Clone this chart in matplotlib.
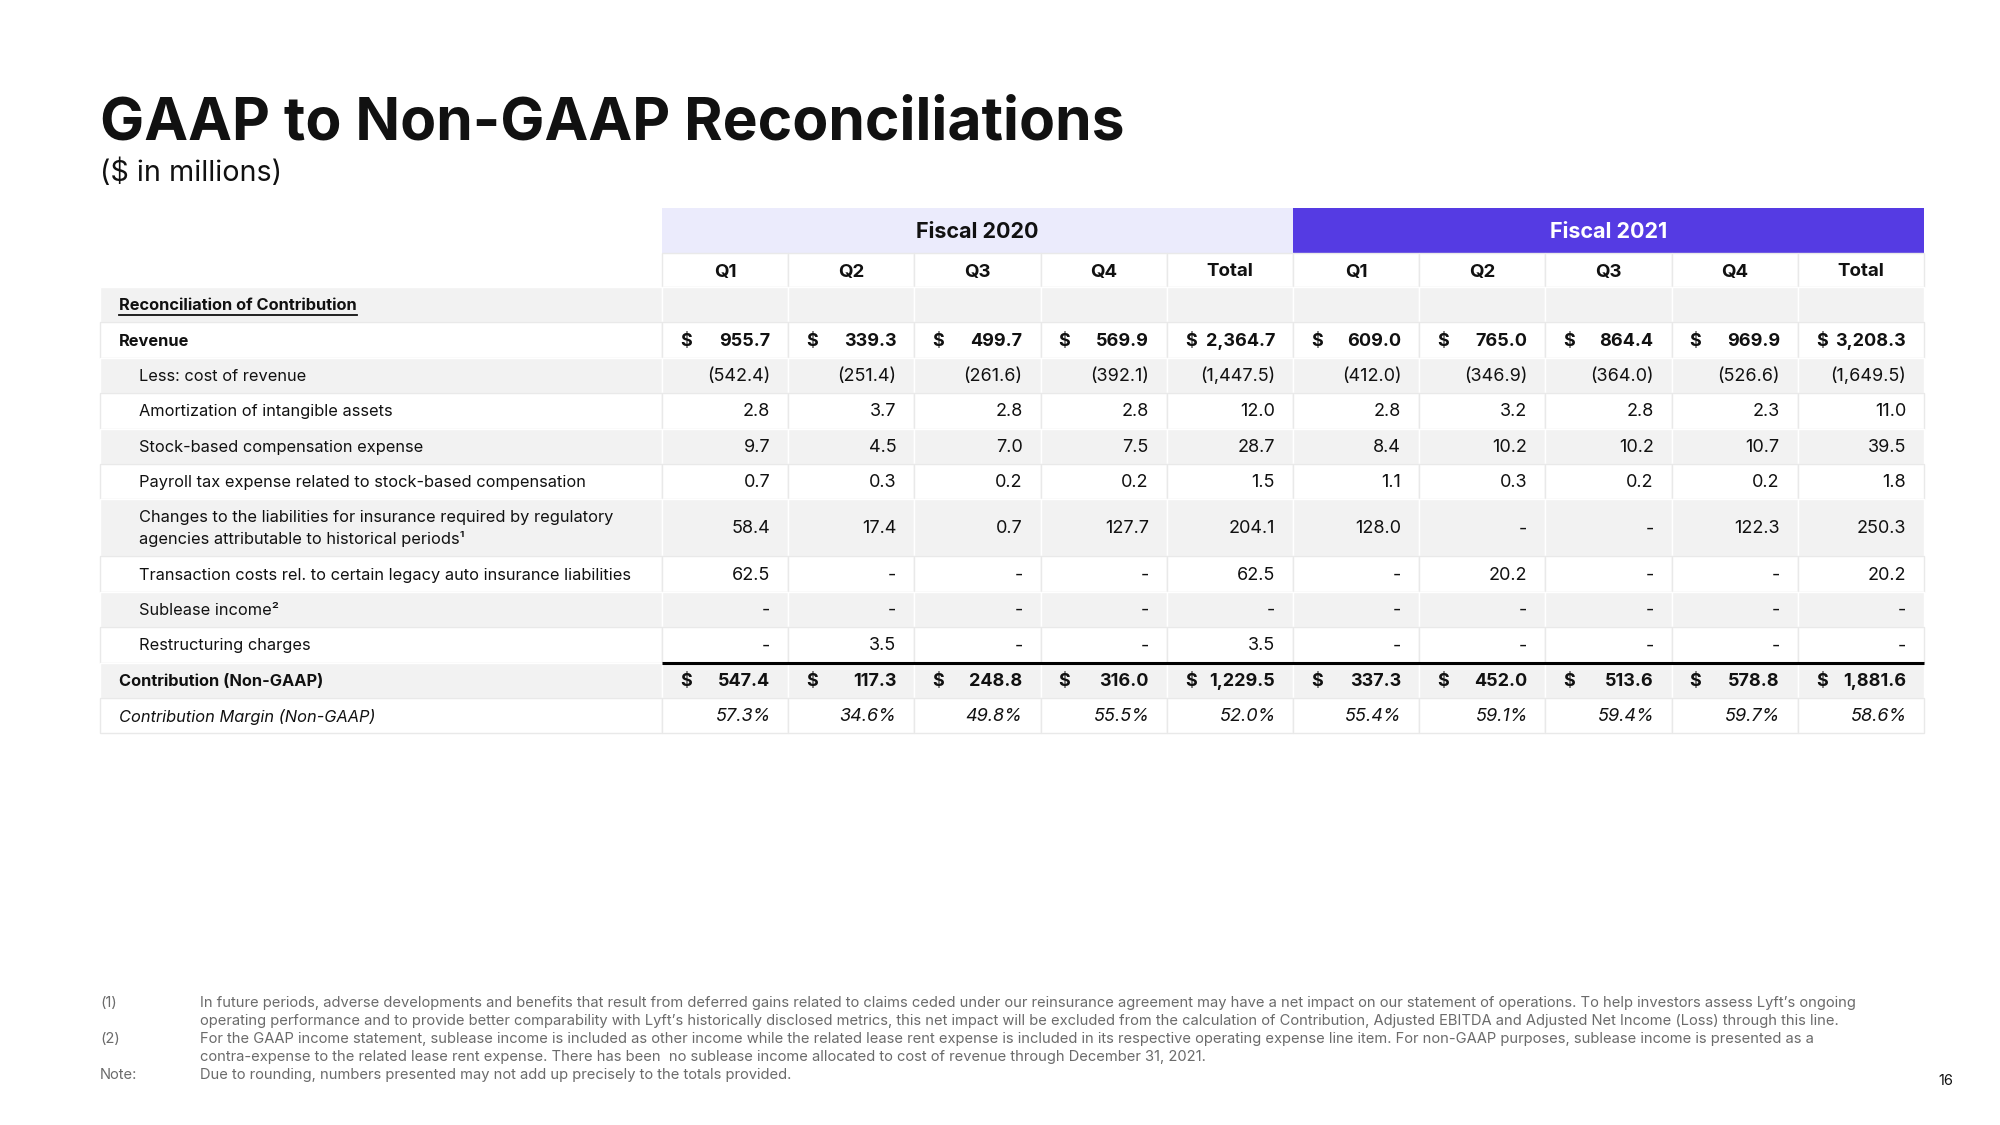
import matplotlib
matplotlib.use("Agg")
import matplotlib.pyplot as plt
from matplotlib.patches import Rectangle

plt.rcParams['font.family'] = ['Inter', 'DejaVu Sans']

# ---- data ----
quarters = ["Q1", "Q2", "Q3", "Q4", "Total"]
fiscal_years = ["Fiscal 2020", "Fiscal 2021"]

row_labels = [
    "Reconciliation of Contribution",
    "Revenue",
    "Less: cost of revenue",
    "Amortization of intangible assets",
    "Stock-based compensation expense",
    "Payroll tax expense related to stock-based compensation",
    "Changes to the liabilities for insurance required by regulatory\nagencies attributable to historical periods\u00b9",
    "Transaction costs rel. to certain legacy auto insurance liabilities",
    "Sublease income\u00b2",
    "Restructuring charges",
    "Contribution (Non-GAAP)",
    "Contribution Margin (Non-GAAP)",
]

revenue = [955.7, 339.3, 499.7, 569.9, 2364.7, 609.0, 765.0, 864.4, 969.9, 3208.3]
cost_of_revenue = [-542.4, -251.4, -261.6, -392.1, -1447.5, -412.0, -346.9, -364.0, -526.6, -1649.5]
amortization = [2.8, 3.7, 2.8, 2.8, 12.0, 2.8, 3.2, 2.8, 2.3, 11.0]
stock_comp = [9.7, 4.5, 7.0, 7.5, 28.7, 8.4, 10.2, 10.2, 10.7, 39.5]
payroll_tax = [0.7, 0.3, 0.2, 0.2, 1.5, 1.1, 0.3, 0.2, 0.2, 1.8]
insurance_changes = [58.4, 17.4, 0.7, 127.7, 204.1, 128.0, None, None, 122.3, 250.3]
transaction_costs = [62.5, None, None, None, 62.5, None, 20.2, None, None, 20.2]
sublease_income = [None] * 10
restructuring = [None, 3.5, None, None, 3.5, None, None, None, None, None]
contribution = [547.4, 117.3, 248.8, 316.0, 1229.5, 337.3, 452.0, 513.6, 578.8, 1881.6]
contribution_margin = [57.3, 34.6, 49.8, 55.5, 52.0, 55.4, 59.1, 59.4, 59.7, 58.6]

row_values = [None, revenue, cost_of_revenue, amortization, stock_comp, payroll_tax,
              insurance_changes, transaction_costs, sublease_income, restructuring,
              contribution, contribution_margin]

footnotes = [
    ("(1)", "In future periods, adverse developments and benefits that result from deferred gains related to claims ceded under our reinsurance agreement may have a net impact on our statement of operations. To help investors assess Lyft\u2019s ongoing"),
    ("", "operating performance and to provide better comparability with Lyft\u2019s historically disclosed metrics, this net impact will be excluded from the calculation of Contribution, Adjusted EBITDA and Adjusted Net Income (Loss) through this line."),
    ("(2)", "For the GAAP income statement, sublease income is included as other income while the related lease rent expense is included in its respective operating expense line item. For non-GAAP purposes, sublease income is presented as a"),
    ("", "contra-expense to the related lease rent expense. There has been  no sublease income allocated to cost of revenue through December 31, 2021."),
    ("Note:", "Due to rounding, numbers presented may not add up precisely to the totals provided."),
]

# ---- styles ----
GRAY = "#f2f2f2"
LAVENDER = "#ebebfc"
PURPLE = "#553be3"
GRID = "#e9e9e9"
TEXT = "#111111"


def fmt(v, pct=False):
    if v is None:
        return "-"
    if pct:
        return f"{v:.1f}%"
    if v < 0:
        return f"({-v:,.1f})"
    return f"{v:,.1f}"


fig = plt.figure(figsize=(20, 11.25), dpi=100)
ax = fig.add_axes([0, 0, 1, 1])
ax.set_xlim(0, 2000)
ax.set_ylim(1125, 0)
ax.axis("off")

# title
ax.text(100, 140, "GAAP to Non-GAAP Reconciliations", fontsize=42.3, fontweight="bold",
        color=TEXT, va="baseline", ha="left")
ax.text(100, 173, "($ in millions)", fontsize=20.7, color=TEXT, va="center", ha="left")

# geometry
tbl_left = 100
lab_right = 662
col_w = 126.2
n_cols = 10
col_left = [lab_right + i * col_w for i in range(n_cols)]
tbl_right = lab_right + n_cols * col_w

band_top, band_bot = 208, 253
q_bot = 287

# fiscal bands
ax.add_patch(Rectangle((lab_right, band_top), 5 * col_w, band_bot - band_top,
                       facecolor=LAVENDER, edgecolor="none"))
ax.add_patch(Rectangle((lab_right + 5 * col_w, band_top), 5 * col_w, band_bot - band_top,
                       facecolor=PURPLE, edgecolor="none"))
ax.text(lab_right + 2.5 * col_w, (band_top + band_bot) / 2 + 1, fiscal_years[0], fontsize=15.5,
        fontweight="bold", color=TEXT, ha="center", va="center")
ax.text(lab_right + 7.5 * col_w, (band_top + band_bot) / 2 + 1, fiscal_years[1], fontsize=15.5,
        fontweight="bold", color="white", ha="center", va="center")

# quarter header
for i in range(n_cols):
    ax.add_patch(Rectangle((col_left[i], band_bot), col_w, q_bot - band_bot,
                           facecolor="white", edgecolor=GRID, lw=1))
    ax.text(col_left[i] + col_w / 2, (band_bot + q_bot) / 2 + 2, quarters[i % 5], fontsize=13.5,
            fontweight="bold", color=TEXT, ha="center", va="center")

# body rows
row_h = 35.4
heights = [row_h] * 6 + [57.0] + [row_h] * 5
tops = [q_bot]
for h in heights[:-1]:
    tops.append(tops[-1] + h)

pad = 18
underline_text = None
for r, label in enumerate(row_labels):
    top, h = tops[r], heights[r]
    cy = top + h / 2
    fill = GRAY if r % 2 == 0 else "white"
    edge = "white" if r % 2 == 0 else GRID
    ax.add_patch(Rectangle((tbl_left, top), lab_right - tbl_left, h,
                           facecolor=fill, edgecolor=edge, lw=1))
    for i in range(n_cols):
        ax.add_patch(Rectangle((col_left[i], top), col_w, h,
                               facecolor=fill, edgecolor=edge, lw=1))

    bold = r in (0, 1, 10)
    italic = r == 11
    x_lab = 119 if (bold or italic) else 139
    t = ax.text(x_lab, cy + 1, label, fontsize=11.8, color=TEXT, ha="left", va="center",
                fontweight="bold" if bold else "normal",
                fontstyle="italic" if italic else "normal", linespacing=1.45)
    if r == 0:
        underline_text = t

    vals = row_values[r]
    if vals is None:
        continue
    for i, v in enumerate(vals):
        ax.text(col_left[i] + col_w - pad, cy + 1, fmt(v, pct=(r == 11)), fontsize=13,
                color=TEXT, ha="right", va="center",
                fontweight="bold" if bold else "normal",
                fontstyle="italic" if italic else "normal")
        if r in (1, 10):
            ax.text(col_left[i] + pad, cy + 1, "$", fontsize=13, color=TEXT, ha="left",
                    va="center", fontweight="bold")

# total line above Contribution
ax.plot([lab_right, tbl_right], [tops[10], tops[10]], color="black", lw=2.2,
        solid_capstyle="butt")

# underline the section title
fig.canvas.draw()
bb = underline_text.get_window_extent(renderer=fig.canvas.get_renderer())
inv = ax.transData.inverted()
(x0, y0), (x1, y1) = inv.transform([[bb.x0, bb.y0], [bb.x1, bb.y1]])
ax.plot([x0, x1], [max(y0, y1) + 2, max(y0, y1) + 2], color=TEXT, lw=1.3)

# footnotes
fn_y = [1003, 1021, 1039, 1057, 1075]
for (mark, text), y in zip(footnotes, fn_y):
    if mark:
        ax.text(100, y, mark, fontsize=10.6, color="#6b6b6b", ha="left", va="center")
    ax.text(200, y, text, fontsize=10.6, color="#6b6b6b", ha="left", va="center")

ax.text(1953, 1081, "16", fontsize=10.5, color=TEXT, ha="right", va="center")

fig.savefig("out.png", dpi=100)
